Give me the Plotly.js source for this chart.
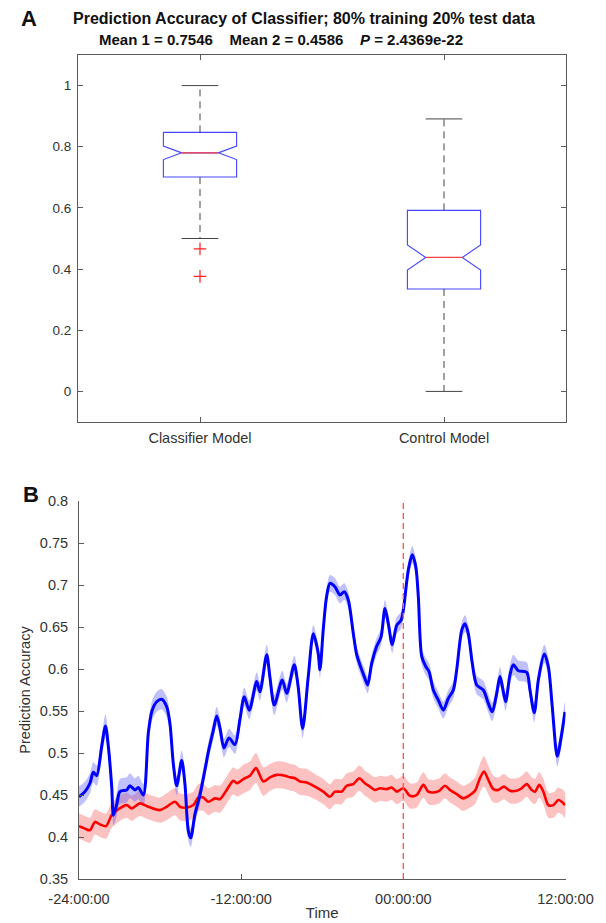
<!DOCTYPE html>
<html>
<head>
<meta charset="utf-8">
<script src="https://cdn.plot.ly/plotly-3.0.1.min.js"></script>
<style>
  html, body { margin: 0; padding: 0; background: #ffffff; }
  #chart { width: 606px; height: 923px; }
</style>
</head>
<body>
<div id="chart"></div>
<script>
// ---------- Panel A data (box plot statistics) ----------
const categories = ['Classifier Model', 'Control Model'];
const q1Values = [0.701, 0.335];
const medianValues = [0.780, 0.438];
const q3Values = [0.847, 0.592];
const notchSpans = [0.022, 0.041];
const whiskerLow = [0.500, 0.000];
const whiskerHigh = [1.000, 0.891];
const outlierCategory = [0, 0];
const outlierValues = [0.466, 0.376];
const meanValues = [0.7546, 0.4586];
const pValueText = '2.4369e-22';
const titleLine1 = 'Prediction Accuracy of Classifier; 80% training 20% test data';

// ---------- Panel B data (time courses, hours relative to event) ----------
const blueTime = [
  -24.00, -23.56, -23.19, -22.94, -22.69, -22.32, -22.04, -21.83, -21.58, -21.45,
  -21.19, -20.97, -20.47, -20.23, -19.86, -19.61, -19.24, -18.87, -18.60, -18.25,
  -17.88, -17.51, -17.27, -17.02, -16.77, -16.40, -16.16, -15.91, -15.73, -15.42,
  -15.05, -14.68, -14.38, -14.06, -13.81, -13.57, -13.27, -12.90, -12.46, -12.09,
  -11.77, -11.40, -10.85, -10.61, -10.11, -9.87, -9.55, -8.96, -8.63, -8.07,
  -7.79, -7.45, -7.03, -6.66, -6.31, -6.17, -5.92, -5.69, -5.43, -5.06,
  -4.69, -4.37, -4.07, -3.70, -3.45, -3.08, -2.87, -2.64, -2.34, -1.97,
  -1.65, -1.36, -1.11, -0.82, -0.49, -0.17, 0.00, 0.37, 0.66, 0.92,
  1.11, 1.36, 1.66, 1.90, 2.22, 2.59, 2.96, 3.33, 3.70, 3.95,
  4.32, 4.56, 4.81, 5.10, 5.43, 5.92, 6.29, 6.58, 6.91, 7.15,
  7.34, 7.57, 7.89, 8.14, 8.51, 9.13, 9.37, 9.69, 9.99, 10.43,
  10.73, 11.02, 11.39, 11.72, 11.96
];
const blueMean = [
  0.448, 0.454, 0.464, 0.477, 0.473, 0.508, 0.532, 0.508, 0.460, 0.426,
  0.440, 0.454, 0.456, 0.461, 0.456, 0.459, 0.450, 0.524, 0.550, 0.561,
  0.564, 0.555, 0.535, 0.487, 0.461, 0.491, 0.463, 0.407, 0.399, 0.427,
  0.450, 0.480, 0.505, 0.527, 0.544, 0.530, 0.506, 0.518, 0.510, 0.540,
  0.567, 0.551, 0.585, 0.573, 0.617, 0.590, 0.557, 0.587, 0.571, 0.605,
  0.580, 0.529, 0.592, 0.642, 0.620, 0.599, 0.648, 0.685, 0.702, 0.698,
  0.688, 0.692, 0.682, 0.642, 0.617, 0.599, 0.590, 0.581, 0.607, 0.627,
  0.638, 0.672, 0.654, 0.629, 0.652, 0.658, 0.670, 0.718, 0.736, 0.722,
  0.686, 0.615, 0.603, 0.597, 0.575, 0.563, 0.551, 0.565, 0.575, 0.599,
  0.646, 0.654, 0.642, 0.607, 0.581, 0.575, 0.559, 0.549, 0.571, 0.591,
  0.578, 0.561, 0.593, 0.605, 0.598, 0.596, 0.575, 0.548, 0.587, 0.618,
  0.603, 0.555, 0.496, 0.523, 0.549
];
const blueSem = [
  0.012, 0.012, 0.012, 0.012, 0.012, 0.013, 0.014, 0.013, 0.012, 0.012,
  0.014, 0.015, 0.015, 0.015, 0.014, 0.014, 0.013, 0.012, 0.012, 0.012,
  0.012, 0.012, 0.011, 0.011, 0.011, 0.012, 0.012, 0.011, 0.011, 0.011,
  0.011, 0.011, 0.011, 0.011, 0.011, 0.011, 0.011, 0.011, 0.011, 0.011,
  0.011, 0.011, 0.011, 0.011, 0.012, 0.012, 0.012, 0.011, 0.011, 0.011,
  0.011, 0.011, 0.011, 0.010, 0.010, 0.010, 0.010, 0.010, 0.010, 0.010,
  0.010, 0.010, 0.010, 0.010, 0.010, 0.010, 0.010, 0.010, 0.010, 0.010,
  0.010, 0.010, 0.010, 0.010, 0.010, 0.010, 0.010, 0.010, 0.010, 0.010,
  0.010, 0.010, 0.010, 0.010, 0.010, 0.010, 0.010, 0.010, 0.010, 0.010,
  0.010, 0.010, 0.010, 0.010, 0.011, 0.011, 0.011, 0.011, 0.011, 0.011,
  0.011, 0.011, 0.012, 0.012, 0.012, 0.012, 0.011, 0.011, 0.011, 0.011,
  0.011, 0.011, 0.012, 0.012, 0.012
];
const redTime = [
  -24.00, -23.56, -23.19, -22.82, -22.45, -22.00, -21.58, -21.09, -20.47, -20.10,
  -19.49, -18.87, -18.01, -17.51, -16.90, -16.53, -16.03, -15.54, -15.17, -14.80,
  -14.43, -13.94, -13.57, -13.07, -12.58, -12.29, -11.84, -11.35, -10.90, -10.36,
  -9.87, -9.37, -8.76, -8.39, -8.02, -7.65, -7.15, -6.54, -5.92, -5.43,
  -5.06, -4.56, -4.19, -3.70, -3.26, -2.84, -2.47, -2.10, -1.73, -1.23,
  -0.86, -0.49, 0.00, 0.49, 0.99, 1.48, 1.85, 2.22, 2.66, 3.08,
  3.45, 3.95, 4.44, 4.93, 5.30, 5.67, 5.97, 6.29, 6.66, 7.03,
  7.45, 7.89, 8.39, 8.76, 9.13, 9.50, 9.74, 10.06, 10.36, 10.73,
  11.10, 11.47, 11.72, 11.96
];
const redMean = [
  0.413, 0.410, 0.408, 0.418, 0.415, 0.413, 0.426, 0.433, 0.438, 0.434,
  0.440, 0.436, 0.432, 0.436, 0.442, 0.436, 0.435, 0.438, 0.447, 0.447,
  0.442, 0.446, 0.445, 0.456, 0.467, 0.464, 0.469, 0.473, 0.482, 0.466,
  0.471, 0.474, 0.473, 0.471, 0.470, 0.466, 0.465, 0.460, 0.454, 0.448,
  0.454, 0.454, 0.461, 0.463, 0.470, 0.464, 0.460, 0.456, 0.458, 0.457,
  0.459, 0.454, 0.458, 0.449, 0.450, 0.462, 0.454, 0.453, 0.455, 0.461,
  0.456, 0.451, 0.446, 0.450, 0.455, 0.470, 0.478, 0.468, 0.457, 0.456,
  0.460, 0.455, 0.455, 0.458, 0.463, 0.456, 0.454, 0.462, 0.454, 0.438,
  0.438, 0.444, 0.442, 0.438
];
const redSem = [
  0.015, 0.015, 0.015, 0.015, 0.015, 0.015, 0.015, 0.015, 0.015, 0.015,
  0.015, 0.015, 0.015, 0.016, 0.016, 0.016, 0.016, 0.016, 0.016, 0.016,
  0.016, 0.016, 0.016, 0.016, 0.016, 0.016, 0.017, 0.017, 0.018, 0.017,
  0.016, 0.016, 0.016, 0.016, 0.016, 0.016, 0.016, 0.015, 0.015, 0.015,
  0.015, 0.015, 0.015, 0.015, 0.015, 0.015, 0.015, 0.015, 0.015, 0.015,
  0.015, 0.015, 0.015, 0.015, 0.015, 0.015, 0.015, 0.015, 0.015, 0.015,
  0.015, 0.015, 0.015, 0.015, 0.016, 0.017, 0.018, 0.017, 0.016, 0.015,
  0.015, 0.015, 0.015, 0.015, 0.015, 0.015, 0.015, 0.015, 0.015, 0.015,
  0.015, 0.015, 0.015, 0.015
];
const timeTickValues = [-24, -12, 0, 12];
const timeTickLabels = ['-24:00:00', '-12:00:00', '00:00:00', '12:00:00'];
const accTickValues = [0.35, 0.4, 0.45, 0.5, 0.55, 0.6, 0.65, 0.7, 0.75, 0.8];
const accTickLabels = ['0.35', '0.4', '0.45', '0.5', '0.55', '0.6', '0.65', '0.7', '0.75', '0.8'];
const eventTime = 0;

// ---------- styling constants ----------
const FONT = 'Liberation Sans, Arial, Helvetica, sans-serif';
const AXIS_COLOR = '#5a5a5a';
const TEXT_COLOR = '#333333';
const BOX_WIDTH = 0.3;     // in category units
const CAP_HALF = 0.075;
const NOTCH_WIDTH = 0.25;  // plotly notchwidth -> median spans half the box
const MEDIAN_HALF = BOX_WIDTH / 2 * (1 - 2 * NOTCH_WIDTH);
const W = 606, H = 923;
const px = (v, total) => v / total;

// ---------- Panel A traces ----------
const catPos = categories.map((c, i) => i + 1);

const boxTrace = {
  type: 'box', xaxis: 'x', yaxis: 'y',
  x: catPos, q1: q1Values, median: medianValues, q3: q3Values,
  lowerfence: q1Values, upperfence: q3Values,
  notched: true, notchspan: notchSpans, notchwidth: NOTCH_WIDTH,
  width: BOX_WIDTH, whiskerwidth: 0, boxpoints: false,
  fillcolor: 'rgba(0,0,0,0)',
  line: { color: '#4646ff', width: 1.1 },
  hoverinfo: 'skip', showlegend: false
};

const whiskX = [], whiskY = [], capX = [], capY = [], medX = [], medY = [];
catPos.forEach((p, i) => {
  whiskX.push(p, p, null, p, p, null);
  whiskY.push(q3Values[i], whiskerHigh[i], null, q1Values[i], whiskerLow[i], null);
  capX.push(p - CAP_HALF, p + CAP_HALF, null, p - CAP_HALF, p + CAP_HALF, null);
  capY.push(whiskerHigh[i], whiskerHigh[i], null, whiskerLow[i], whiskerLow[i], null);
  medX.push(p - MEDIAN_HALF, p + MEDIAN_HALF, null);
  medY.push(medianValues[i], medianValues[i], null);
});

const whiskerTrace = {
  type: 'scatter', mode: 'lines', xaxis: 'x', yaxis: 'y',
  x: whiskX, y: whiskY,
  line: { color: '#444444', width: 1, dash: '7px,5px' },
  hoverinfo: 'skip', showlegend: false
};
const capTrace = {
  type: 'scatter', mode: 'lines', xaxis: 'x', yaxis: 'y',
  x: capX, y: capY,
  line: { color: '#444444', width: 1 },
  hoverinfo: 'skip', showlegend: false
};
const medianTrace = {
  type: 'scatter', mode: 'lines', xaxis: 'x', yaxis: 'y',
  x: medX, y: medY,
  line: { color: '#ff4040', width: 1.2 },
  hoverinfo: 'skip', showlegend: false
};
const outlierTrace = {
  type: 'scatter', mode: 'markers', xaxis: 'x', yaxis: 'y',
  x: outlierCategory.map(c => catPos[c]), y: outlierValues,
  marker: { symbol: 'cross-thin', size: 9, line: { color: '#ff2020', width: 1.2 } },
  hoverinfo: 'skip', showlegend: false
};

// ---------- Panel B traces ----------
function band(t, m, e, color) {
  const up = m.map((v, i) => v + e[i]);
  const lo = m.map((v, i) => v - e[i]);
  return {
    type: 'scatter', mode: 'lines', xaxis: 'x2', yaxis: 'y2',
    x: t.concat(t.slice().reverse()),
    y: up.concat(lo.slice().reverse()),
    fill: 'toself', fillcolor: color,
    line: { width: 0, shape: 'spline', smoothing: 0.8 },
    hoverinfo: 'skip', showlegend: false
  };
}
const redBand = band(redTime, redMean, redSem, 'rgba(245,80,80,0.35)');
const blueBand = band(blueTime, blueMean, blueSem, 'rgba(70,70,245,0.34)');
const redLine = {
  type: 'scatter', mode: 'lines', xaxis: 'x2', yaxis: 'y2',
  x: redTime, y: redMean,
  line: { color: '#ff0000', width: 2.6, shape: 'spline', smoothing: 0.8 },
  hoverinfo: 'skip', showlegend: false
};
const blueLine = {
  type: 'scatter', mode: 'lines', xaxis: 'x2', yaxis: 'y2',
  x: blueTime, y: blueMean,
  line: { color: '#0000ff', width: 3, shape: 'spline', smoothing: 0.8 },
  hoverinfo: 'skip', showlegend: false
};

const nb = '\u00a0';
const titleLine2 = 'Mean 1 = ' + meanValues[0].toFixed(4) + nb.repeat(4) +
  'Mean 2 = ' + meanValues[1].toFixed(4) + nb.repeat(4) + '<i>P</i> = ' + pValueText;

const axisCommon = {
  showline: true, linecolor: AXIS_COLOR, linewidth: 1,
  ticks: 'inside', ticklen: 5, tickcolor: AXIS_COLOR, tickwidth: 1,
  showgrid: false, zeroline: false, fixedrange: true
};

const layout = {
  width: W, height: H, autosize: false,
  margin: { l: 0, r: 0, t: 0, b: 0 },
  paper_bgcolor: '#ffffff', plot_bgcolor: '#ffffff',
  font: { family: FONT, color: TEXT_COLOR, size: 13 },
  showlegend: false, hovermode: false,
  xaxis: Object.assign({}, axisCommon, {
    domain: [px(78, W), px(566, W)], anchor: 'y',
    range: [0.5, 2.5], tickvals: catPos, ticktext: categories,
    mirror: 'ticks', ticklabelstandoff: 3,
    tickfont: { size: 14.5, color: TEXT_COLOR, family: FONT }
  }),
  yaxis: Object.assign({}, axisCommon, {
    domain: [1 - px(422, H), 1 - px(55, H)], anchor: 'x',
    range: [-0.1, 1.1], tick0: 0, dtick: 0.2,
    mirror: 'ticks', ticklabelstandoff: 3,
    tickfont: { size: 13.5, color: TEXT_COLOR, family: FONT }
  }),
  xaxis2: Object.assign({}, axisCommon, {
    domain: [px(79, W), px(565.5, W)], anchor: 'y2',
    range: [-24, 12], tickvals: timeTickValues, ticktext: timeTickLabels,
    ticklabelstandoff: 7,
    tickfont: { size: 14.5, color: TEXT_COLOR, family: FONT },
    title: { text: 'Time', font: { size: 15, color: TEXT_COLOR, family: FONT }, standoff: 1 }
  }),
  yaxis2: Object.assign({}, axisCommon, {
    domain: [1 - px(879, H), 1 - px(501, H)], anchor: 'x2',
    range: [0.35, 0.8], tickvals: accTickValues, ticktext: accTickLabels,
    ticklabelstandoff: 7,
    tickfont: { size: 14.5, color: TEXT_COLOR, family: FONT },
    title: { text: 'Prediction Accuracy', font: { size: 14.5, color: TEXT_COLOR, family: FONT }, standoff: 5 }
  }),
  shapes: [{
    type: 'line', xref: 'x2', yref: 'y2 domain',
    x0: eventTime, x1: eventTime, y0: 0, y1: 1,
    line: { color: 'rgb(255,90,90)', width: 1.4, dash: '6px,4px' }, layer: 'above'
  }],
  annotations: [
    { text: '<b>A</b>', xref: 'paper', yref: 'paper', x: px(19, W), y: 1 - px(18, H),
      xanchor: 'left', yanchor: 'middle', showarrow: false,
      font: { size: 22, color: '#111111', family: FONT } },
    { text: '<b>B</b>', xref: 'paper', yref: 'paper', x: px(21, W), y: 1 - px(495, H),
      xanchor: 'left', yanchor: 'middle', showarrow: false,
      font: { size: 22, color: '#111111', family: FONT } },
    { text: '<b>' + titleLine1 + '</b>', xref: 'paper', yref: 'paper',
      x: px(304, W), y: 1 - px(18, H), xanchor: 'center', yanchor: 'middle', showarrow: false,
      font: { size: 16, color: '#111111', family: FONT } },
    { text: '<b>' + titleLine2 + '</b>', xref: 'paper', yref: 'paper',
      x: px(281, W), y: 1 - px(40, H), xanchor: 'center', yanchor: 'middle', showarrow: false,
      font: { size: 15, color: '#111111', family: FONT } }
  ]
};

Plotly.newPlot('chart',
  [boxTrace, whiskerTrace, capTrace, medianTrace, outlierTrace, redBand, blueBand, redLine, blueLine],
  layout, { staticPlot: true, displayModeBar: false });
</script>
</body>
</html>
